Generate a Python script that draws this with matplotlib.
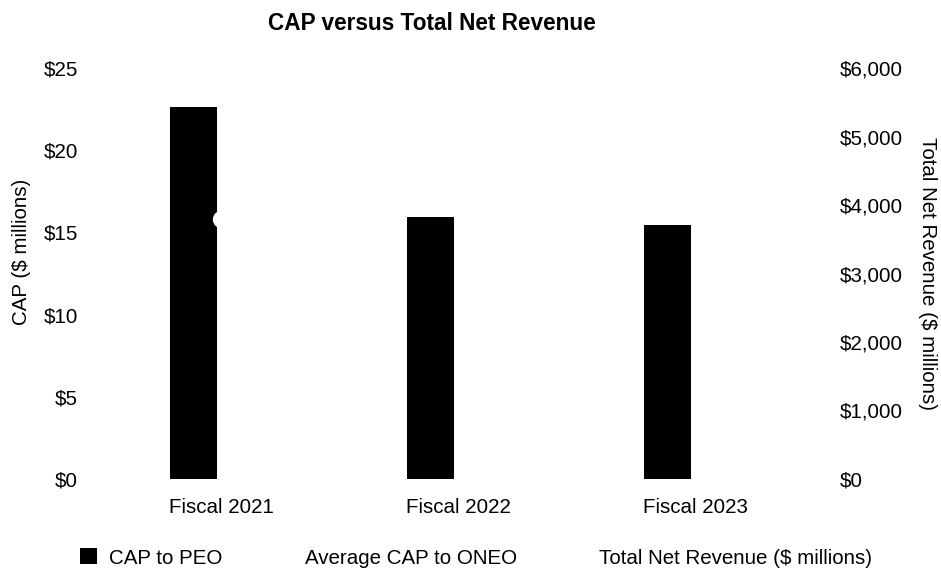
import matplotlib.pyplot as plt
import numpy

plt.rcParams['font.family'] = ['Liberation Sans', 'DejaVu Sans']

# data
years = ['Fiscal 2021', 'Fiscal 2022', 'Fiscal 2023']
cap_peo = [22.65, 15.92, 15.45]
cap_oneo = [6.5, 5.3, 5.0]          # white bars, not visible in the reference
net_revenue = [3790, 4200, 4100]    # only the 2021 point is visible
cap_ticks = [0, 5, 10, 15, 20, 25]
rev_ticks = [0, 1000, 2000, 3000, 4000, 5000, 6000]

fig = plt.figure(figsize=(9.41, 5.72), dpi=100)
ax = fig.add_axes([0.1089, 0.1626, 0.7556, 0.7185])
ax2 = ax.twinx()

x = numpy.arange(len(years))
width = 0.2
off = 0.115
ax.bar(x - off, cap_peo, width, color='black', label='CAP to PEO', zorder=2)
ax.bar(x + off, cap_oneo, width, color='white', label='Average CAP to ONEO', zorder=2)
ax2.plot(x, net_revenue, color='white', marker='o', markersize=11.5,
         linewidth=2, label='Total Net Revenue ($ millions)', zorder=3)

ax.set_xlim(-0.5, 2.5)
ax.set_ylim(0, 25)
ax2.set_ylim(0, 6000)
ax.set_yticks(cap_ticks)
ax.set_yticklabels(['$%d' % v for v in cap_ticks])
ax2.set_yticks(rev_ticks)
ax2.set_yticklabels(['${:,}'.format(v) for v in rev_ticks])
ax.set_xticks(x)
ax.set_xticklabels(years)

fs = 14.8
for a in (ax, ax2):
    for s in a.spines.values():
        s.set_visible(False)
    a.tick_params(length=0, labelsize=fs)
ax.tick_params(axis='y', pad=17.5)
ax2.tick_params(axis='y', pad=19)
ax.tick_params(axis='x', pad=13.5)

fig.text(432 / 941, 1 - 24 / 572, 'CAP versus Total Net Revenue', ha='center',
         va='center', fontsize=16.3, fontweight='bold')
fig.text(22 / 941, 1 - 252 / 572, 'CAP ($ millions)', rotation=90, ha='center',
         va='center', fontsize=fs)
fig.text(928 / 941, 1 - 274 / 572, 'Total Net Revenue ($ millions)', rotation=270,
         ha='center', va='center', fontsize=fs)

h1, l1 = ax.get_legend_handles_labels()
h2, l2 = ax2.get_legend_handles_labels()
fig.legend(h1 + h2, l1 + l2, loc='center', bbox_to_anchor=(476 / 941, 1 - 558 / 572),
           ncol=3, frameon=False, fontsize=fs, handlelength=0.8, handleheight=0.8,
           handletextpad=0.6, columnspacing=2.6)

fig.savefig('out.png', dpi=100)
